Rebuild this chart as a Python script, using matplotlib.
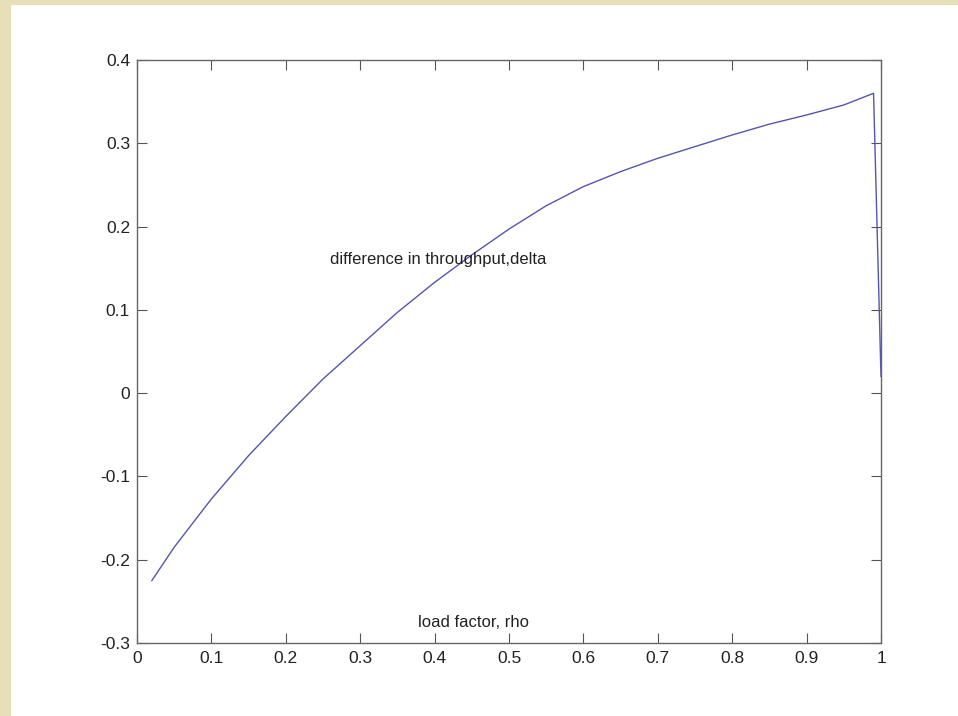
import numpy as np
import matplotlib
matplotlib.use("Agg")
import matplotlib.pyplot as plt
from matplotlib.patches import Rectangle

# load factor and throughput difference
rho = [0.02, 0.05, 0.10, 0.15, 0.20, 0.25, 0.30, 0.35, 0.40, 0.45, 0.50,
       0.55, 0.60, 0.65, 0.70, 0.75, 0.80, 0.85, 0.90, 0.95, 0.99, 1.00]
delta = [-0.225, -0.185, -0.127, -0.075, -0.028, 0.017, 0.057, 0.097, 0.133,
         0.166, 0.197, 0.225, 0.248, 0.266, 0.282, 0.296, 0.310, 0.323, 0.334,
         0.346, 0.360, 0.02]

xticks = [0, 0.1, 0.2, 0.3, 0.4, 0.5, 0.6, 0.7, 0.8, 0.9, 1]
xlabels = ["0", "0.1", "0.2", "0.3", "0.4", "0.5", "0.6", "0.7", "0.8", "0.9", "1"]
yticks = [-0.3, -0.2, -0.1, 0, 0.1, 0.2, 0.3, 0.4]
ylabels = ["-0.3", "-0.2", "-0.1", "0", "0.1", "0.2", "0.3", "0.4"]


def draw_plot():
    plt.rcParams['font.family'] = ['Liberation Sans', 'DejaVu Sans']
    fig = plt.figure(figsize=(9.58, 7.16), dpi=100)
    fig.patch.set_facecolor("#e6dfb8")
    # white sheet on top of the parchment
    sheet = Rectangle((11/958, 0), 1, 1 - 5/716, transform=fig.transFigure,
                      facecolor="white", edgecolor="none", zorder=-10)
    fig.patches.append(sheet)

    ax = fig.add_axes([137/958, 73/716, 744/958, 583/716])
    ax.set_zorder(5)
    ax.patch.set_alpha(0)
    ax.plot(rho, delta, color="#5555b0", linewidth=1.0)

    ax.set_xlim(0, 1)
    ax.set_ylim(-0.3, 0.4)
    ax.set_xticks(xticks)
    ax.set_xticklabels(xlabels)
    ax.set_yticks(yticks)
    ax.set_yticklabels(ylabels)
    ax.tick_params(direction="in", length=7, width=0.8, color="#555555",
                   labelsize=12.5, labelcolor="#222222",
                   top=True, right=True, pad=5)
    ax.tick_params(axis="x", pad=6)
    for s in ax.spines.values():
        s.set_color("#666666")
        s.set_linewidth(1.0)

    ax.text(0.26, 0.16, "difference in throughput,delta", fontsize=12,
            color="#222222", ha="left", va="center")
    ax.text(0.378, -0.275, "load factor, rho", fontsize=12,
            color="#222222", ha="left", va="center")

    fig.savefig("out.png", dpi=100, facecolor=fig.get_facecolor())


if __name__ == "__main__":
    draw_plot()
